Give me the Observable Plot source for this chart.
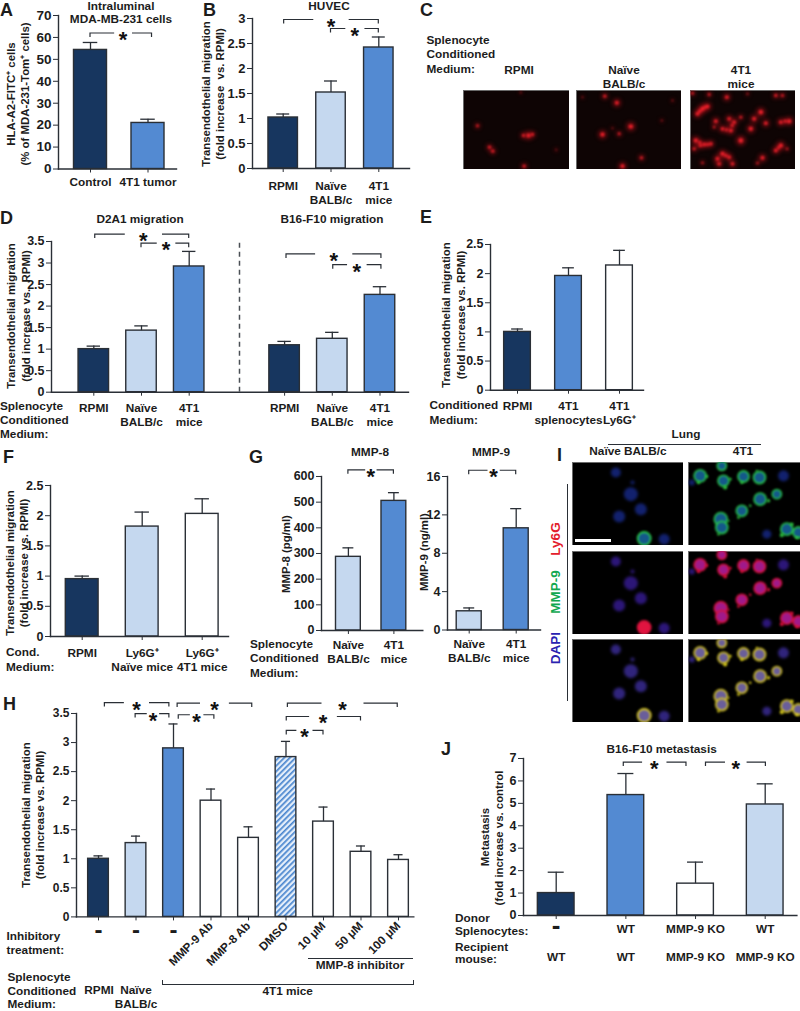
<!DOCTYPE html>
<html><head><meta charset="utf-8">
<script src="https://cdn.jsdelivr.net/npm/d3@7"></script>
<script src="https://cdn.jsdelivr.net/npm/@observablehq/plot@0.6"></script>
<style>
html,body{margin:0;padding:0;background:#fff}
#fig{position:relative;width:800px;height:1011px;overflow:hidden;font-family:"Liberation Sans",Arial,sans-serif;font-weight:700;color:#1c1c1c}
#fig .t{position:absolute;white-space:pre;line-height:1}
</style></head><body>
<svg width="0" height="0" style="position:absolute"><defs>
<pattern id="hatch" patternUnits="userSpaceOnUse" width="4" height="4" patternTransform="rotate(-45)">
<rect width="4" height="4" fill="#e4eefa"/><rect width="4" height="1.7" fill="#4a86cf"/></pattern></defs></svg>
<div id="fig"></div>
<script>
// ---------- data ----------
const groupDomain = ["control","tumor","naive","none","dmso"];
const aCats = ["Control","4T1 tumor"], aVals = [54.3,21], aUp = [57.7,22.7], aGroups = ["control","tumor"];
const bCats = ["RPMI","Naïve\nBALB/c","4T1\nmice"], bVals = [1.02,1.52,2.42], bUp = [1.09,1.75,2.63], bGroups = ["control","naive","tumor"];
const dCats = ["RPMI","Naïve\nBALB/c","4T1\nmice"," ","RPMI ","Naïve\nBALB/c ","4T1\nmice "];
const dVals = [1.0,1.43,2.92,null,1.09,1.24,2.26], dUp = [1.07,1.54,3.27,null,1.18,1.39,2.45];
const dGroups = ["control","naive","tumor","none","control","naive","tumor"];
const eCats = ["RPMI","4T1\nsplenocytes","4T1\nLy6G⁺"], eVals = [1.0,1.96,2.14], eUp = [1.05,2.1,2.4], eGroups = ["control","tumor","none"];
const fCats = ["RPMI","Ly6G⁺\nNaïve mice","Ly6G⁺\n4T1 mice"], fVals = [0.95,1.82,2.03], fUp = [1.0,2.06,2.28], fGroups = ["control","naive","none"];
const g8Cats = ["Naïve\nBALB/c","4T1\nmice"], g8Vals = [287,505], g8Up = [322,537], gGroups = ["naive","tumor"];
const g9Vals = [1.95,10.6], g9Up = [2.3,12.65];
const hCats = ["RPMI","Naïve BALB/c","4T1 mice","MMP-9 Ab","MMP-8 Ab","DMSO","10 μM","50 μM","100 μM"];
const hVals = [1.0,1.27,2.9,2.0,1.36,2.75,1.64,1.12,0.98], hUp = [1.05,1.39,3.32,2.2,1.55,3.02,1.89,1.22,1.07];
const hGroups = ["control","naive","tumor","none","none","dmso","none","none","none"];
const jDonor = ["-","WT","MMP-9 KO","WT"], jRecipient = ["WT","WT","MMP-9 KO","MMP-9 KO"];
const jVals = [1.0,5.37,1.42,4.95], jUp = [1.93,6.33,2.38,5.87], jGroups = ["control","tumor","none","naive"];
// micrograph spots [x, y, size] in image units (3 units = 1 px)
const cRpmi = [[42,106,1.8],[180,135,2],[195,135,2.8],[207,132,2],[78,170,2],[88,182,2],[182,227,2],[278,178,1],[172,6,.9]];
const cNaive = [[85,17,2],[121,37,2.6],[163,108,3],[78,132,2.8],[128,130,1.8],[195,202,2],[138,227,2.6],[256,90,1],[18,20,.9],[288,30,1],[108,113,.9]];
const c4t1 = [[36,55,3],[21,70,2.6],[51,48,2.6],[28,62,2.4],[44,50,2.4],[109,20,2.4],[56,12,1.8],[6,8,1.8],[256,15,2],[276,15,1.8],[171,10,1.2],[76,92,2.4],[116,85,2.4],[131,95,2.4],[125,105,2],[121,120,2.6],[96,115,2.4],[108,118,2],[151,80,1.8],[211,65,3],[191,85,2.6],[226,98,2.4],[181,115,2.8],[296,92,2.8],[271,95,2.4],[284,92,2],[151,150,3.2],[16,150,2.8],[28,156,2],[41,162,2.4],[71,110,1.5],[61,160,2.4],[51,162,2],[271,165,2.8],[256,180,2.4],[264,172,2],[96,190,2.8],[81,205,2.6],[116,200,2.4],[106,195,2.2],[126,220,2.4],[216,202,2.6],[86,220,2.4],[36,217,1.5],[201,218,1.5],[11,175,2],[30,165,2.2],[290,175,1.5]];
const iNaiveNuclei = [[130,30,5],[175,95,7],[205,140,6],[140,162,6],[275,230,5.5],[180,60,2]];
const iNaiveRing = [[215,228,6.5]];
const i4t1Ring = [[35,40,6],[105,55,5.5],[165,42,5.5],[213,45,6],[100,10,4.5],[215,110,6],[265,95,4.5],[160,145,5.5],[97,170,6.5],[100,195,6],[295,200,6],[330,210,5.5]];
const i4t1Nuclei = [[285,40,5.5],[235,215,4.5],[10,60,3]];
const i4t1Bright = [[30,60,2.2],[55,42,1.8],[110,75,2.6],[125,50,1.8],[160,60,2],[205,25,1.4],[240,115,2.2],[185,130,1.6],[150,165,1.8],[120,175,1.4],[280,218,2.6],[310,185,2.2],[325,225,2],[90,215,1.6]];

// ---------- helpers ----------
const fig = document.getElementById("fig");
const groupColors = ["#17365f","#538ad2","#c5d8ef","#ffffff","url(#hatch)"];
const ink = "#2a2f36";
const family = '"Liberation Sans",Arial,sans-serif';
const TXT = 11.8, YT = 11.4, LET = 18;
function label(text,x,y,{size=TXT,anchor="middle",rot=0,color}={}){
  const el=document.createElement("div"); el.className="t"; el.textContent=text;
  el.style.left=x+"px"; el.style.top=y+"px"; el.style.fontSize=size+"px";
  if(color) el.style.color=color;
  const tx=anchor==="middle"?"-50%":"0";
  el.style.transform=`translate(${tx},-50%)`+(rot?` rotate(${rot}deg)`:"");
  fig.appendChild(el);
}
function bar(l,t,w,h,c=ink){
  const e=document.createElement("div");e.style.cssText=`position:absolute;left:${l}px;top:${t}px;width:${w}px;height:${h}px;background:${c}`;fig.appendChild(e);
}
function bracketMark(cats,brs){
  return (index,{x,y})=>{
    const bw=x.bandwidth(), st=x(cats[1])-x(cats[0]);
    const px=i=>x(cats[0])+bw/2+i*st;
    const g=d3.create("svg:g");
    for(const b of brs){
      const Y=y(b.y),d=`M${px(b.from)},${Y+4}V${Y}H${px(b.gap[0])}M${px(b.gap[1])},${Y}H${px(b.to)}V${Y+4}`;
      g.append("path").attr("d",d).attr("fill","none").attr("stroke",ink).attr("stroke-width",1.2);
      g.append("text").attr("x",px((b.gap[0]+b.gap[1])/2)).attr("y",Y+14).attr("text-anchor","middle")
       .attr("font-size",22).attr("font-weight",700).attr("fill","#111").text("*");
    }
    return g.node();
  };
}
function barPanel(o){
  const {cats,vals,up,groups,ax,right,top,bottom,c0,step,bw,max,ticks,fs=12.5,pad=4,brackets=[],marks=[],xAxis=true}=o;
  const mL=48,mT=34,mR=6,mB=96,left=ax-mL;
  const data=cats.map((c,i)=>({c,v:vals[i],u:up[i],g:groups[i]})).filter(d=>d.v!=null);
  const inner=1-bw/step,cap=(bw-Math.min(bw*0.44,16))/2;
  const svg=Plot.plot({
    width:right-ax+mL+mR,height:bottom-top+mT+mB,marginLeft:mL,marginTop:mT,marginRight:mR,marginBottom:mB,
    style:{background:"transparent",fontFamily:family,maxWidth:"none",position:"absolute",left:left+"px",top:(top-mT)+"px",overflow:"visible"},
    x:{type:"band",domain:cats,range:[c0-step/2-left,c0-step/2-left+step*cats.length],paddingInner:inner,paddingOuter:inner/2,round:false,label:null},
    y:{domain:[0,max],label:null},
    color:{type:"ordinal",domain:groupDomain,range:groupColors},
    marks:[
      Plot.barY(data,{x:"c",y:"v",fill:"g",stroke:ink,strokeWidth:1.4}),
      Plot.ruleX(data,{x:"c",y1:"v",y2:"u",stroke:ink,strokeWidth:1.3}),
      Plot.tickY(data,{x:"c",y:"u",stroke:ink,strokeWidth:1.3,insetLeft:cap,insetRight:cap}),
      Plot.frame({anchor:"left",stroke:ink,strokeWidth:1.4}),
      Plot.frame({anchor:"bottom",stroke:ink,strokeWidth:1.4}),
      Plot.axisY({ticks,tickSize:5,tickPadding:2,fontSize:fs,fontWeight:700,label:null,fill:"#1c1c1c",stroke:ink,tickFormat:d=>d}),
      xAxis?Plot.axisX({ticks:cats.filter(c=>c.trim()),tickSize:4,tickPadding:pad,fontSize:TXT,fontWeight:700,label:null,lineHeight:1.17,fill:"#1c1c1c",stroke:ink,tickFormat:o.xFormat||(d=>d.trim())}):null,
      bracketMark(cats,brackets),
      ...marks
    ]
  });
  fig.appendChild(svg);
}
function micrograph(x,y,w,h,layers){
  const svg=Plot.plot({
    width:w,height:h,margin:0,
    style:{position:"absolute",left:x+"px",top:y+"px",background:"transparent",maxWidth:"none"},
    x:{domain:[0,w*3],axis:null},y:{domain:[h*3,0],axis:null},r:{type:"identity"},
    marks:[
      Plot.frame({fill:layers.bg||"#000",stroke:"#6a6a6a",strokeWidth:1}),
      ...layers.list.map(l=>Plot.dot(l.data,{x:d=>d[0],y:d=>d[1],r:d=>d[2]*(l.k||1),fill:l.fill,stroke:l.stroke,strokeWidth:l.sw,fillOpacity:l.op,strokeOpacity:l.sop,clip:true,imageFilter:`blur(${l.blur||0.8}px)`}))
    ]
  });
  fig.appendChild(svg);
}

// ---------- A ----------
barPanel({cats:aCats,vals:aVals,up:aUp,groups:aGroups,ax:58,right:176,top:14.5,bottom:168,c0:90,step:57.5,bw:33,max:70,ticks:d3.range(0,71,10),fs:13.5,pad:3,
  brackets:[{from:0,to:1.07,y:61.8,gap:[0.42,0.73]}]});
label("A",0,10,{size:LET,anchor:"start"});
label("Intraluminal",121,7);label("MDA-MB-231 cells",121,20);
label("HLA-A2-FITC⁺ cells",11.5,94,{rot:-90,size:YT});
label("(% of MDA-231-Tom⁺ cells)",25.5,94,{rot:-90,size:YT});
// ---------- B ----------
barPanel({cats:bCats,vals:bVals,up:bUp,groups:bGroups,ax:252,right:409,top:18,bottom:168,c0:282.7,step:47.8,bw:29.5,max:3,ticks:[0,.5,1,1.5,2,2.5,3],fs:13,pad:8,
  brackets:[{from:0.02,to:2,y:2.97,gap:[0.64,1.38]},{from:1,to:2,y:2.79,gap:[1.31,1.71]}]});
label("B",203,10,{size:LET,anchor:"start"});
label("HUVEC",329,7);
label("Transendothelial migration",207,94,{rot:-90,size:YT});
label("(fold increase  vs. RPMI)",221,94,{rot:-90,size:YT});
// ---------- C ----------
label("C",420,10,{size:LET,anchor:"start"});
label("Splenocyte",426.5,41,{anchor:"start"});label("Conditioned",426.5,55,{anchor:"start"});label("Medium:",426.5,69.5,{anchor:"start"});
label("RPMI",519,71);label("Naïve",624,71);label("BALB/c",624,85);label("4T1",741,71);label("mice",741,85);
const redSpots=d=>({bg:"#0e0404",list:[{data:d,fill:"#a81018",k:1.5,blur:2,op:.7},{data:d,fill:"#e8202a",k:.7,blur:1}]});
micrograph(463,90,106,79,redSpots(cRpmi));
micrograph(576,90,105,79,redSpots(cNaive));
micrograph(690,90,105,79,redSpots(c4t1));
// ---------- D ----------
barPanel({cats:dCats,vals:dVals,up:dUp,groups:dGroups,ax:51,right:408,top:241,bottom:391.7,c0:93.3,step:47.7,bw:30.5,max:3.5,ticks:[0,.5,1,1.5,2,2.5,3,3.5],pad:6,
  brackets:[{from:0.03,to:2,y:3.66,gap:[0.66,1.44]},{from:1,to:2,y:3.45,gap:[1.33,1.72]},
    {from:4.04,to:6.03,y:3.2,gap:[4.65,5.43]},{from:5.02,to:6.03,y:2.95,gap:[5.32,5.73]}],
  marks:[Plot.ruleX([" "],{y1:0,y2:3.5,dx:2.6,stroke:"#4a4f55",strokeWidth:1.5,strokeDasharray:"5,4"})]});
label("D",0,218,{size:LET,anchor:"start"});
label("D2A1 migration",140,220);label("B16-F10 migration",332,220);
label("Transendothelial migration",11.5,316,{rot:-90,size:YT});
label("(fold increase vs.  RPMI)",27,316,{rot:-90,size:YT});
label("Splenocyte",0,407,{anchor:"start"});label("Conditioned",0,421,{anchor:"start"});label("Medium:",0,435,{anchor:"start"});
// ---------- E ----------
barPanel({cats:eCats,vals:eVals,up:eUp,groups:eGroups,ax:490,right:643,top:244.3,bottom:390,c0:517,step:51,bw:26.7,max:2.5,ticks:[0,.5,1,1.5,2,2.5],pad:6});
label("E",420,217,{size:LET,anchor:"start"});
label("Transendothelial migration",447,315,{rot:-90,size:YT});
label("(fold increase vs. RPMI)",462,315,{rot:-90,size:YT});
label("Conditioned",429.5,406,{anchor:"start"});label("Medium:",429.5,421,{anchor:"start"});
// ---------- F ----------
barPanel({cats:fCats,vals:fVals,up:fUp,groups:fGroups,ax:50,right:228,top:485,bottom:636,c0:81.7,step:60,bw:32.8,max:2.5,ticks:[0,.5,1,1.5,2,2.5],pad:7});
label("F",3,457,{size:LET,anchor:"start"});
label("Transendothelial migration",11,563,{rot:-90,size:YT});
label("(fold increase vs. RPMI)",25,563,{rot:-90,size:YT});
label("Cond.",6,653,{anchor:"start"});label("Medium:",6,668,{anchor:"start"});
// ---------- G ----------
barPanel({cats:g8Cats,vals:g8Vals,up:g8Up,groups:gGroups,ax:320.7,right:422,top:476,bottom:630,c0:347.6,step:45.5,bw:24.8,max:600,ticks:d3.range(0,601,100),pad:5,
  brackets:[{from:0,to:1,y:624,gap:[0.38,0.63]}]});
barPanel({cats:g8Cats,vals:g9Vals,up:g9Up,groups:gGroups,ax:446.6,right:539.6,top:475.5,bottom:629,c0:468.3,step:47,bw:25,max:16,ticks:[0,4,8,12,16],pad:4,
  brackets:[{from:0,to:1,y:16.6,gap:[0.4,0.66]}]});
label("G",249,457,{size:LET,anchor:"start"});
label("MMP-8",370,452.5);label("MMP-9",491,452.5);
label("MMP-8 (pg/ml)",287,554,{rot:-90,size:YT});
label("MMP-9 (ng/ml)",425,552,{rot:-90,size:YT});
label("Splenocyte",250,644.5,{anchor:"start"});label("Conditioned",250,659,{anchor:"start"});label("Medium:",250,673.5,{anchor:"start"});
// ---------- H ----------
barPanel({cats:hCats,vals:hVals,up:hUp,groups:hGroups,ax:76,right:413.3,top:713.3,bottom:916.7,c0:98,step:37.5,bw:20.7,max:3.5,ticks:[0,.5,1,1.5,2,2.5,3,3.5],fs:12,xAxis:false,
  brackets:[{from:.17,to:1.89,y:3.68,gap:[.69,1.36]},{from:.99,to:1.89,y:3.49,gap:[1.3,1.63]},
    {from:2.11,to:4.1,y:3.67,gap:[2.72,3.49]},{from:2.14,to:3.09,y:3.47,gap:[2.45,2.81]},
    {from:5.05,to:7.98,y:3.67,gap:[5.96,7.08]},{from:5.02,to:7,y:3.44,gap:[5.63,6.37]},{from:5.02,to:6,y:3.2,gap:[5.29,5.72]}],
  marks:[
    Plot.axisX({ticks:hCats.slice(0,3),tickSize:4,tickPadding:0,fontSize:24,fontWeight:700,label:null,stroke:ink,fill:"#1c1c1c",tickFormat:()=>"-"}),
    Plot.axisX({ticks:hCats.slice(3),tickSize:4,tickPadding:3,tickRotate:-45,fontSize:11.8,fontWeight:700,label:null,stroke:ink,fill:"#1c1c1c",tickFormat:d=>d})
  ]});
label("H",3,704,{size:LET,anchor:"start"});
label("Transendothelial migration",26.7,814.5,{rot:-90,size:YT});
label("(fold increase vs. RPMI)",41.3,814.5,{rot:-90,size:YT});
label("Inhibitory",6.5,936.7,{anchor:"start"});label("treatment:",6.5,951,{anchor:"start"});
label("Splenocyte",7.5,978,{anchor:"start"});label("Conditioned",7.5,992,{anchor:"start"});label("Medium:",7.5,1005,{anchor:"start"});
label("RPMI",99,991);label("Naïve",136,991);label("BALB/c",136,1004.5);
label("MMP-8 inhibitor",360,966);label("4T1 mice",287.7,992);
bar(308,958,104.7,1.2);bar(162,984,252,1.2);bar(162,980,1.2,5);bar(413,980,1.2,5);
// ---------- I ----------
label("I",557,455,{size:LET,anchor:"start"});
label("Lung",686,435);label("Naïve BALB/c",628,452);label("4T1",743,452);
label("Ly6G",556,539,{rot:-90,size:13.5,color:"#e3202c"});
label("MMP-9",556,592,{rot:-90,size:13.5,color:"#12a850"});
label("DAPI",556,648,{rot:-90,size:13.5,color:"#2a22b0"});
bar(608,444,153,1.2);bar(567,484,1.2,217);
const rows=[[462,"#28c84a","#14588a","#34d848","#12216e"],[551,"#d8123c","#a01a8a","#f01040","#2c1678"],[639,"#d8c824","#6a5e9a","#f0e020","#30247c"]];
rows.forEach(([y,ring,nuc,bright,dim],idx)=>{
  micrograph(572,y,111,83,{list:[
    {data:iNaiveNuclei,fill:dim,blur:1.4},
    {data:iNaiveRing,fill:idx===1?"#e01440":nuc,stroke:ring,sw:1.8,blur:1}]});
  micrograph(688,y,112,83,{list:[
    {data:i4t1Nuclei,fill:dim,blur:1.4},
    {data:i4t1Ring,fill:nuc,stroke:ring,sw:1.8,sop:.9,blur:1.1},
    {data:i4t1Bright,fill:bright,k:.8,blur:1.2,op:.85}]});
});
bar(575,539,36,2.5,"#fff");
// ---------- J ----------
const jCats = jDonor.map((d,i)=>d+i);
barPanel({cats:jCats,vals:jVals,up:jUp,groups:jGroups,ax:523.3,right:796.7,top:757.7,bottom:914.7,c0:556,step:69.67,bw:36.7,max:7,ticks:d3.range(0,8),fs:12.5,xAxis:false,
  brackets:[{from:.97,to:1.87,y:6.82,gap:[1.24,1.59]},{from:2.15,to:3.01,y:6.82,gap:[2.43,2.74]}],
  marks:[
    Plot.axisX({ticks:jCats,tickSize:4,tickPadding:4,fontSize:TXT,fontWeight:700,label:null,lineHeight:1.17,stroke:ink,fill:"#1c1c1c",
      tickFormat:d=>{const i=+d.slice(-1);return (i?jDonor[i]:"\u00a0")+"\n\u00a0\n"+jRecipient[i];}}),
    Plot.axisX({ticks:jCats.slice(0,1),tickSize:0,tickPadding:0,fontSize:26,fontWeight:700,label:null,fill:"#1c1c1c",tickFormat:()=>jDonor[0]})
  ]});
label("J",441,749,{size:LET,anchor:"start"});
label("B16-F10 metastasis",661.7,750);
label("Metastasis",485.7,836.7,{rot:-90,size:YT});
label("(fold increase vs. control",500,838,{rot:-90,size:YT});
label("Donor",455,919,{anchor:"start"});label("Splenocytes:",455,932,{anchor:"start"});
label("Recipient",455,948,{anchor:"start"});label("mouse:",455,960,{anchor:"start"});
</script>
</body></html>
